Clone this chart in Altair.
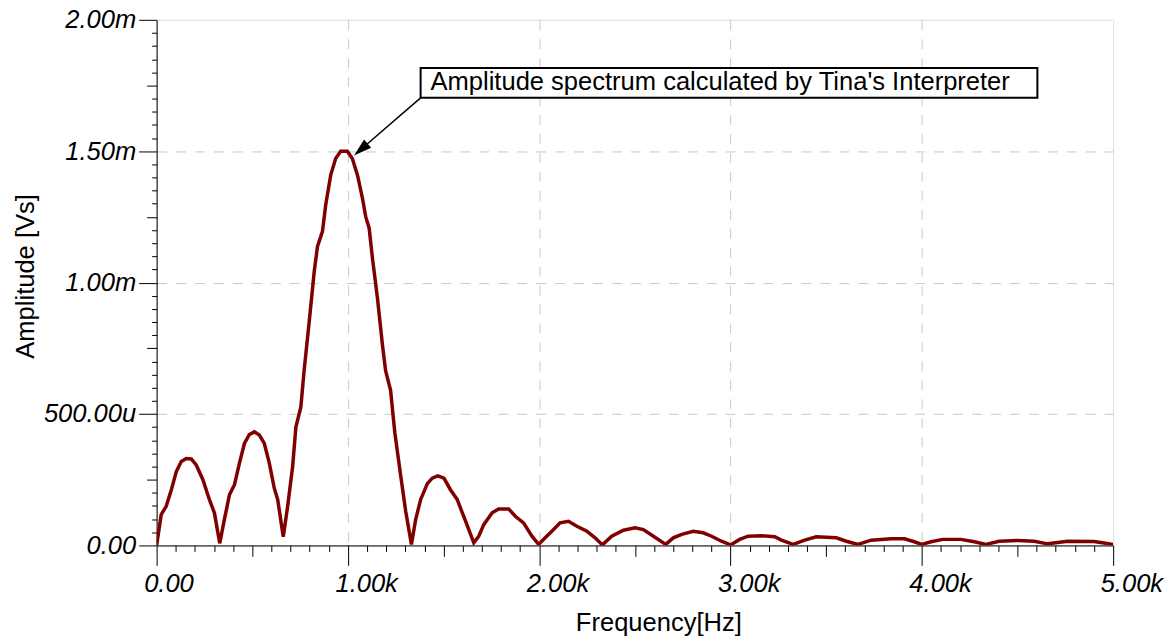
import altair as alt
import pandas as pd

# ---------------- data ----------------
FREQ_KHZ = [0.000, 0.024, 0.050, 0.077, 0.103, 0.129, 0.155, 0.181, 0.207, 0.242,
            0.276, 0.302, 0.330, 0.354, 0.381, 0.407, 0.433, 0.459, 0.485, 0.511,
            0.537, 0.563, 0.589, 0.615, 0.633, 0.662, 0.685, 0.711, 0.728, 0.754,
            0.771, 0.798, 0.824, 0.841, 0.867, 0.884, 0.910, 0.936, 0.962, 0.997,
            1.023, 1.050, 1.076, 1.093, 1.111, 1.128, 1.154, 1.180, 1.197, 1.223,
            1.245, 1.275, 1.302, 1.332, 1.354, 1.380, 1.415, 1.441, 1.470, 1.502,
            1.536, 1.571, 1.615, 1.658, 1.684, 1.710, 1.754, 1.788, 1.840, 1.875,
            1.918, 1.962, 1.997, 2.031, 2.066, 2.109, 2.153, 2.197, 2.249, 2.292,
            2.330, 2.379, 2.440, 2.501, 2.544, 2.597, 2.661, 2.701, 2.745, 2.805,
            2.857, 2.901, 2.953, 3.000, 3.048, 3.092, 3.161, 3.231, 3.266, 3.327,
            3.388, 3.448, 3.553, 3.605, 3.666, 3.735, 3.839, 3.909, 3.961, 3.999,
            4.048, 4.109, 4.204, 4.274, 4.335, 4.404, 4.500, 4.587, 4.657, 4.700,
            4.761, 4.900, 4.952, 5.000]
AMP_MVS = [0.000, 0.117, 0.149, 0.212, 0.281, 0.319, 0.331, 0.329, 0.306, 0.250,
           0.174, 0.124, 0.008, 0.098, 0.193, 0.231, 0.313, 0.388, 0.422, 0.432,
           0.420, 0.388, 0.313, 0.218, 0.174, 0.033, 0.149, 0.300, 0.450, 0.527,
           0.665, 0.854, 1.043, 1.138, 1.195, 1.296, 1.409, 1.472, 1.500, 1.500,
           1.472, 1.409, 1.321, 1.251, 1.207, 1.094, 0.943, 0.766, 0.665, 0.590,
           0.430, 0.270, 0.130, 0.004, 0.098, 0.174, 0.235, 0.256, 0.265, 0.256,
           0.212, 0.175, 0.092, 0.010, 0.035, 0.079, 0.124, 0.139, 0.139, 0.111,
           0.086, 0.035, 0.004, 0.029, 0.054, 0.086, 0.092, 0.073, 0.054, 0.029,
           0.002, 0.035, 0.058, 0.067, 0.060, 0.035, 0.004, 0.029, 0.042, 0.054,
           0.048, 0.035, 0.016, 0.002, 0.023, 0.035, 0.037, 0.033, 0.020, 0.004,
           0.020, 0.033, 0.029, 0.016, 0.004, 0.020, 0.025, 0.025, 0.014, 0.004,
           0.014, 0.023, 0.023, 0.014, 0.004, 0.016, 0.019, 0.016, 0.006, 0.010,
           0.016, 0.015, 0.009, 0.004]

# tick positions (kHz on x, mVs on y)
X_MAJOR = [0, 1, 2, 3, 4, 5]
X_MAJOR_LABELS = ["0.00", "1.00k", "2.00k", "3.00k", "4.00k", "5.00k"]
X_MID = [0.5, 1.5, 2.5, 3.5, 4.5]
X_MINOR = [round(i * 0.1, 1) for i in range(51) if i % 5 != 0]
X_GRID = [1, 2, 3, 4]
Y_MAJOR = [0, 0.5, 1.0, 1.5, 2.0]
Y_MAJOR_LABELS = ["0.00", "500.00u", "1.00m", "1.50m", "2.00m"]
Y_MID = [0.25, 0.75, 1.25, 1.75]
Y_MINOR = [round(i * 0.05, 2) for i in range(41) if i % 5 != 0]
Y_GRID = [0.5, 1.0, 1.5]

ANNOTATION = "Amplitude spectrum calculated by Tina's Interpreter"
X_TITLE = "Frequency[Hz]"
Y_TITLE = "Amplitude [Vs]"

FONT = "Liberation Sans"
FS = 25.6
LINE_COLOR = "#800000"
GRID_COLOR = "#c8c8c8"


def label_expr(values, texts):
    expr = "''"
    for v, t in reversed(list(zip(values, texts))):
        expr = f"abs(datum.value - {v}) < 1e-6 ? '{t}' : ({expr})"
    return expr


df = pd.DataFrame({"f": FREQ_KHZ, "a": AMP_MVS})

xscale = alt.Scale(domain=[0, 5], nice=False, zero=False)
yscale = alt.Scale(domain=[0, 2], nice=False, zero=False)

# ---- main axes (labels, titles, major ticks, domain) ----
x_major_axis = alt.Axis(
    orient="bottom", values=X_MAJOR,
    labelExpr=label_expr(X_MAJOR, X_MAJOR_LABELS),
    labelFont=FONT, labelFontStyle="italic", labelFontSize=FS, labelColor="black",
    labelAlign="left", labelOffset=-13, labelBaseline="alphabetic", labelPadding=26,
    labelOverlap=False, labelFlush=False, labelBound=False,
    tickSize=20, tickColor="black", tickWidth=1,
    domain=True, domainColor="black", domainWidth=1, grid=False,
    title=X_TITLE, titleFont=FONT, titleFontSize=FS, titleFontWeight="normal",
    titleColor="black", titleX=503, titleY=85.7, titleBaseline="alphabetic",
    titleAlign="center", titleAnchor="start",
)
y_major_axis = alt.Axis(
    orient="left", values=Y_MAJOR,
    labelExpr=label_expr(Y_MAJOR, Y_MAJOR_LABELS),
    labelFont=FONT, labelFontStyle="italic", labelFontSize=FS, labelColor="black",
    labelAlign="right", labelBaseline="middle", labelPadding=3,
    labelOverlap=False, labelFlush=False, labelBound=False,
    tickSize=18, tickColor="black", tickWidth=1,
    domain=True, domainColor="black", domainWidth=1, grid=False,
    title=Y_TITLE, titleFont=FONT, titleFontSize=FS, titleFontWeight="normal",
    titleColor="black", titleAngle=270, titleX=-123.7, titleY=256.8,
    titleBaseline="alphabetic", titleAlign="center", titleAnchor="start",
)


def tick_axis(orient, values, size):
    return alt.Axis(orient=orient, values=values, tickSize=size, tickColor="black",
                    tickWidth=1, labels=False, domain=False, grid=False, title=None)


def grid_axis(orient, values):
    return alt.Axis(orient=orient, values=values, ticks=False, labels=False,
                    domain=False, grid=True, gridColor=GRID_COLOR, gridDash=[10, 9],
                    gridWidth=1, title=None)


def ghost(xa, ya):
    return alt.Chart(df).mark_line(opacity=0).encode(
        x=alt.X("f:Q", scale=xscale, axis=xa),
        y=alt.Y("a:Q", scale=yscale, axis=ya),
    )


grid_layer = ghost(grid_axis("bottom", X_GRID), grid_axis("left", Y_GRID))
mid_layer = ghost(tick_axis("bottom", X_MID, 11), tick_axis("left", Y_MID, 10))
minor_layer = ghost(tick_axis("bottom", X_MINOR, 6), tick_axis("left", Y_MINOR, 5))

line = alt.Chart(df).mark_line(color=LINE_COLOR, strokeWidth=3.5, clip=True).encode(
    x=alt.X("f:Q", scale=xscale, axis=x_major_axis),
    y=alt.Y("a:Q", scale=yscale, axis=y_major_axis),
)

# ---- annotation (positions in data coordinates) ----
box_df = pd.DataFrame({"x": [1.380], "x2": [4.604], "y": [1.817], "y2": [1.703]})
box = alt.Chart(box_df).mark_rect(fill="white", stroke="black", strokeWidth=2).encode(
    x=alt.X("x:Q", scale=xscale, axis=None), x2="x2:Q",
    y=alt.Y("y:Q", scale=yscale, axis=None), y2="y2:Q",
)

txt_df = pd.DataFrame({"x": [1.432], "y": [1.731], "t": [ANNOTATION]})
txt = alt.Chart(txt_df).mark_text(
    align="left", baseline="alphabetic", font=FONT, fontSize=FS, color="black"
).encode(
    x=alt.X("x:Q", scale=xscale, axis=None),
    y=alt.Y("y:Q", scale=yscale, axis=None),
    text="t:N",
)

arr_df = pd.DataFrame({"x": [1.380], "y": [1.703], "x2": [1.084], "y2": [1.517]})
arrow_line = alt.Chart(arr_df).mark_rule(color="black", strokeWidth=1.5).encode(
    x=alt.X("x:Q", scale=xscale, axis=None), x2="x2:Q",
    y=alt.Y("y:Q", scale=yscale, axis=None), y2="y2:Q",
)

head_df = pd.DataFrame({"x": [1.032], "y": [1.484]})
arrow_head = alt.Chart(head_df).mark_point(
    shape="M0,0L-0.6,2L0.6,2Z", filled=True, color="black", opacity=1,
    size=324, angle=229,
).encode(
    x=alt.X("x:Q", scale=xscale, axis=None),
    y=alt.Y("y:Q", scale=yscale, axis=None),
)

chart = alt.layer(
    grid_layer, mid_layer, minor_layer, line, arrow_line, arrow_head, box, txt
).resolve_axis(
    x="independent", y="independent"
).properties(
    width=959, height=527,
    autosize=alt.AutoSizeParams(type="none"),
    padding={"left": 149, "top": 11, "right": 55, "bottom": 91},
).configure_view(
    stroke="#c0c0c0", strokeWidth=1
).configure(background="white")

chart.save("out.html", embed_options={"renderer": "svg", "actions": False})
